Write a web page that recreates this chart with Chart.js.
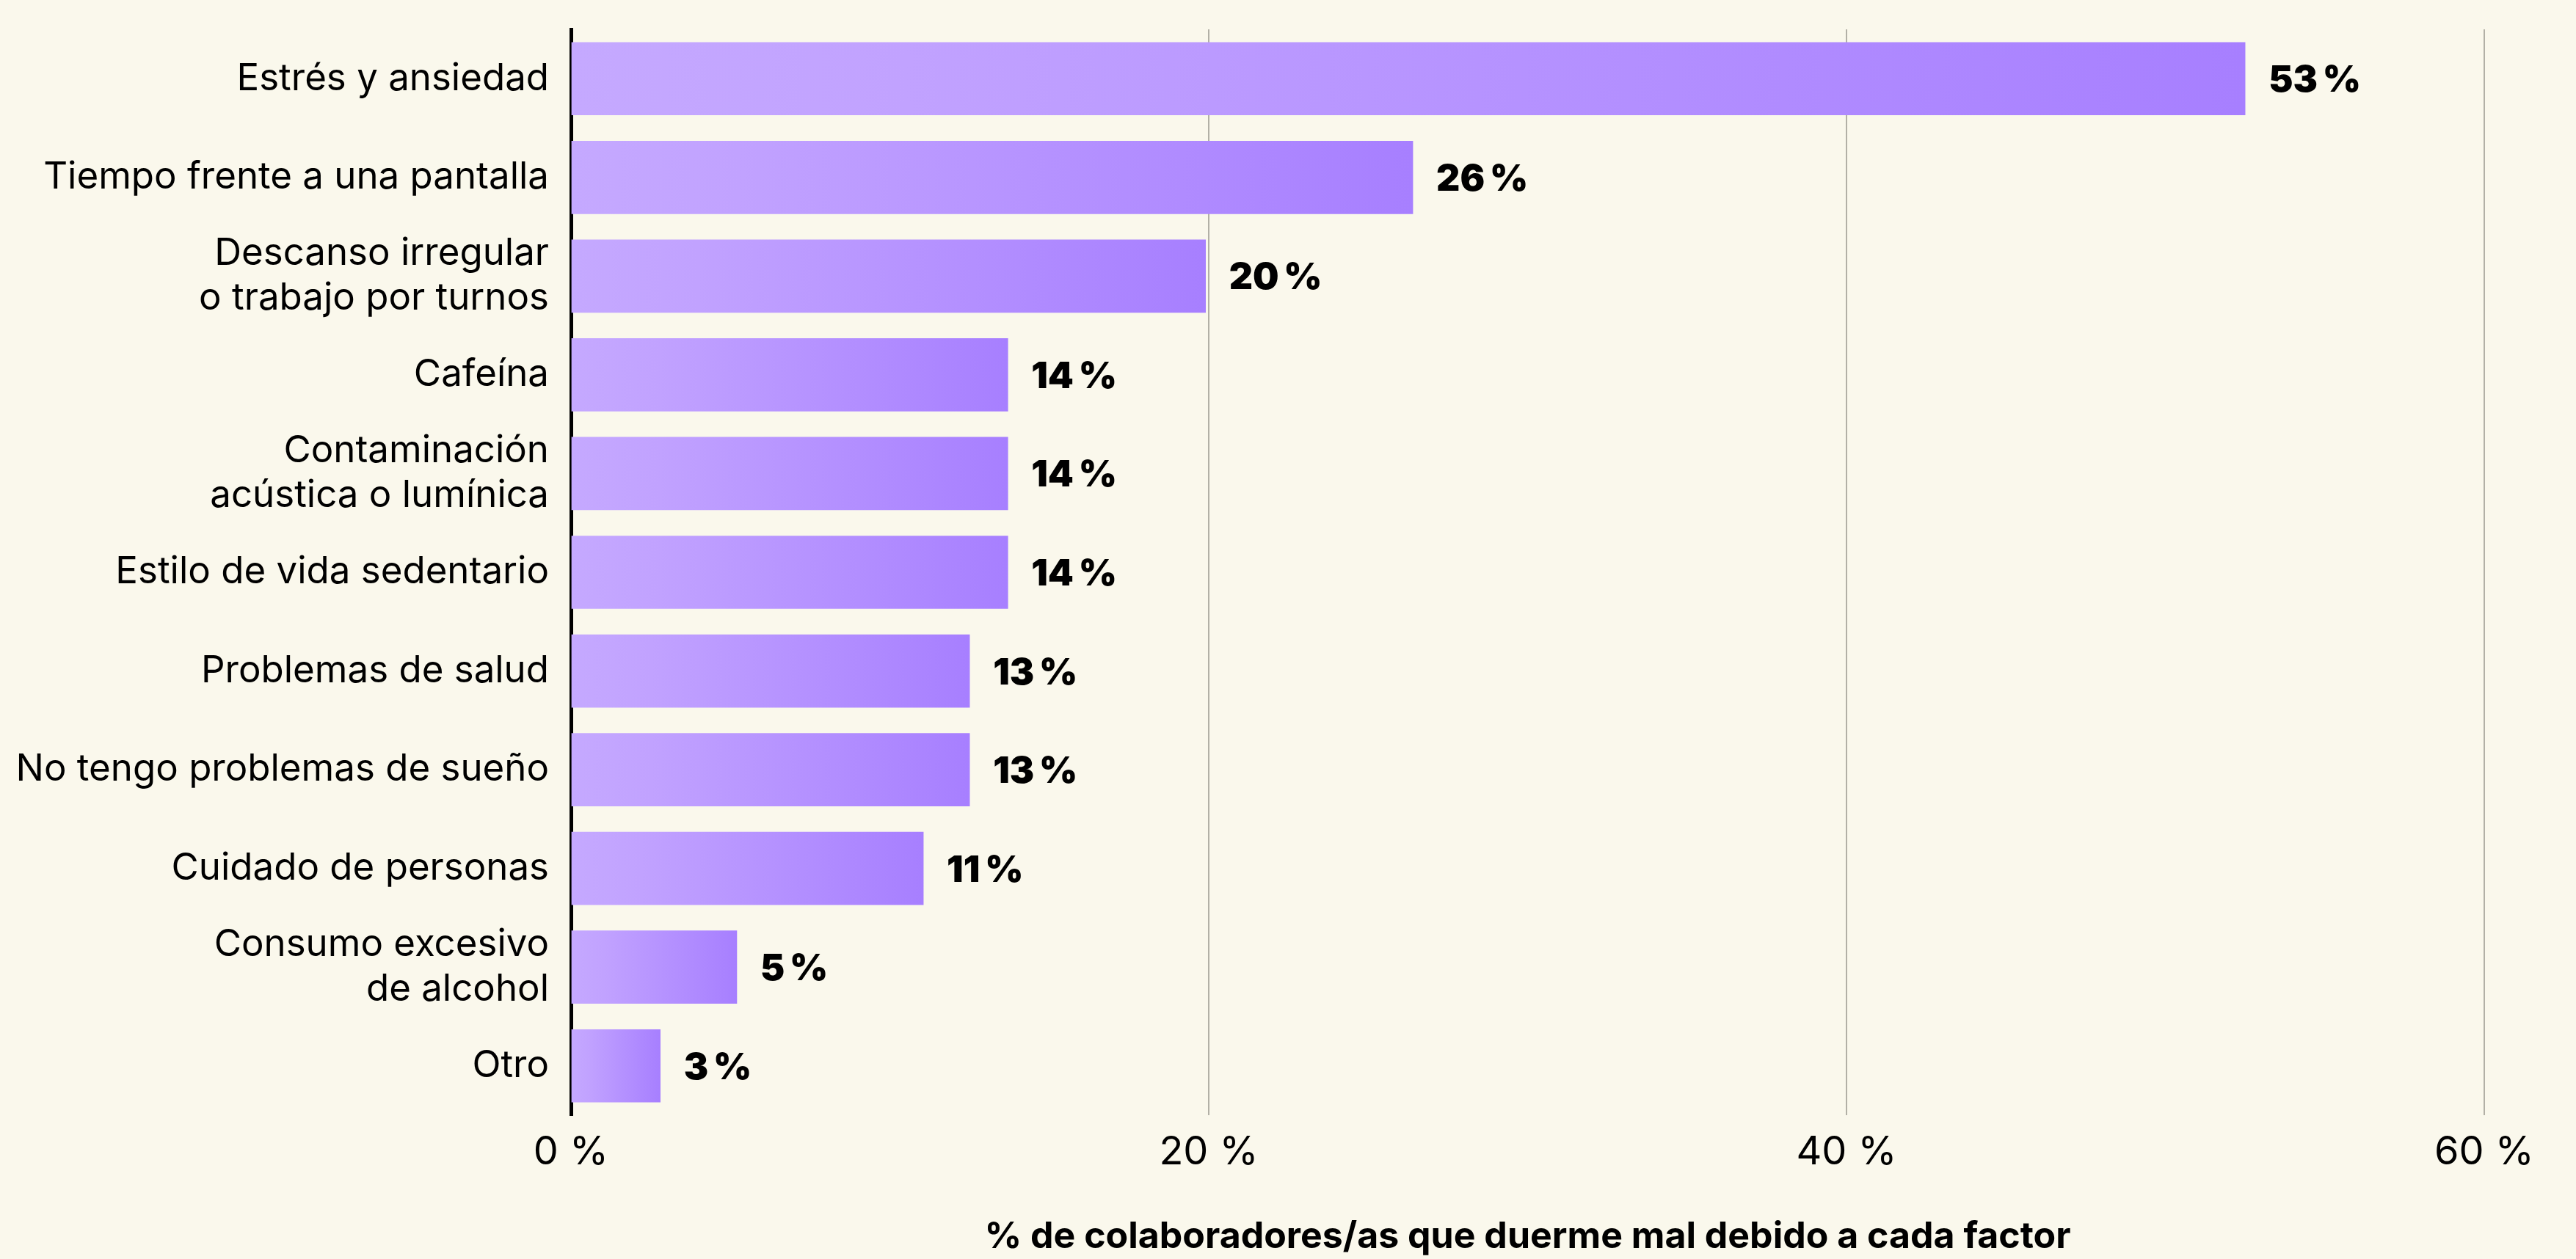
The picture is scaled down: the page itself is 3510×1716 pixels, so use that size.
<!DOCTYPE html>
<html>
<head>
<meta charset="utf-8">
<script src="https://cdn.jsdelivr.net/npm/chart.js@4.4.1/dist/chart.umd.min.js"></script>
<style>
  html, body { margin: 0; padding: 0; background: #FAF8EC; }
  #wrap { width: 3510px; height: 1716px; position: relative; }
  canvas { display: block; }
</style>
</head>
<body>
<div id="wrap"><canvas id="c" width="3510" height="1716"></canvas></div>
<script>
// ---- data ----
const categories = [
  'Estrés y ansiedad',
  'Tiempo frente a una pantalla',
  ['Descanso irregular', 'o trabajo por turnos'],
  'Cafeína',
  ['Contaminación', 'acústica o lumínica'],
  'Estilo de vida sedentario',
  'Problemas de salud',
  'No tengo problemas de sueño',
  'Cuidado de personas',
  ['Consumo excesivo', 'de alcohol'],
  'Otro'
];
const values = [52.5, 26.4, 19.9, 13.7, 13.7, 13.7, 12.5, 12.5, 11.05, 5.2, 2.8];
const xTickValues = [0, 20, 40, 60];
const axisTitle = '% de colaboradores/as que duerme mal debido a cada factor';

// ---- plugins ----
const bgPlugin = {
  id: 'bg',
  beforeDraw(chart) {
    const ctx = chart.ctx;
    ctx.save();
    ctx.fillStyle = '#FAF8EC';
    ctx.fillRect(0, 0, chart.width, chart.height);
    ctx.restore();
  }
};

const valueLabels = {
  id: 'valueLabels',
  afterDatasetsDraw(chart) {
    const ctx = chart.ctx;
    const meta = chart.getDatasetMeta(0);
    ctx.save();
    ctx.font = '900 50px Inter';
    ctx.fillStyle = '#000';
    ctx.textBaseline = 'middle';
    ctx.textAlign = 'left';
    meta.data.forEach((bar, i) => {
      ctx.fillText(Math.round(values[i]) + '\u202F%', bar.x + 32, bar.y + 3);
    });
    ctx.restore();
  }
};

function barGradient(c) {
  const chart = c.chart;
  if (!chart.chartArea || c.type !== 'data' || !chart.scales.x) return '#B893FF';
  const xs = chart.scales.x;
  const x0 = xs.getPixelForValue(0);
  const x1 = xs.getPixelForValue(c.raw);
  const g = chart.ctx.createLinearGradient(x0, 0, Math.max(x1, x0 + 1), 0);
  g.addColorStop(0, '#C5A9FF');
  g.addColorStop(0.2, '#C1A2FF');
  g.addColorStop(1, '#A77FFF');
  return g;
}

new Chart(document.getElementById('c'), {
  type: 'bar',
  data: {
    labels: categories,
    datasets: [{
      data: values,
      backgroundColor: barGradient,
      borderWidth: 0,
      barThickness: 99
    }]
  },
  options: {
    indexAxis: 'y',
    responsive: false,
    devicePixelRatio: 1,
    animation: false,
    layout: { padding: { left: 0, right: 125, top: 40, bottom: 0 } },
    plugins: {
      legend: { display: false },
      tooltip: { enabled: false }
    },
    scales: {
      x: {
        type: 'linear',
        position: 'bottom',
        min: 0,
        max: 60,
        afterBuildTicks: (s) => { s.ticks = xTickValues.map(v => ({ value: v })); },
        ticks: {
          callback: (v) => v + ' %',
          color: '#000',
          font: { family: 'Inter', size: 54, weight: '400' },
          padding: 18,
          maxRotation: 0
        },
        grid: { color: '#B2B0A6', lineWidth: 2, drawTicks: false },
        border: { display: false },
        title: {
          display: true,
          text: axisTitle,
          color: '#000',
          font: { family: 'Inter', size: 50, weight: '700' },
          padding: { top: 0, bottom: 0 }
        },
        afterFit: (s) => { s.height = 196; s.paddingLeft = 0; s.paddingRight = 0; }
      },
      y: {
        type: 'category',
        grid: { display: false, drawTicks: false },
        border: { display: true, color: '#000', width: 5 },
        ticks: {
          color: '#000',
          font: { family: 'Inter', size: 51, weight: '400', lineHeight: 1.2 },
          padding: 30
        },
        afterFit: (s) => { s.width = 778; s.paddingTop = 0; s.paddingBottom = 0; }
      }
    }
  },
  plugins: [bgPlugin, valueLabels]
});
</script>
</body>
</html>
